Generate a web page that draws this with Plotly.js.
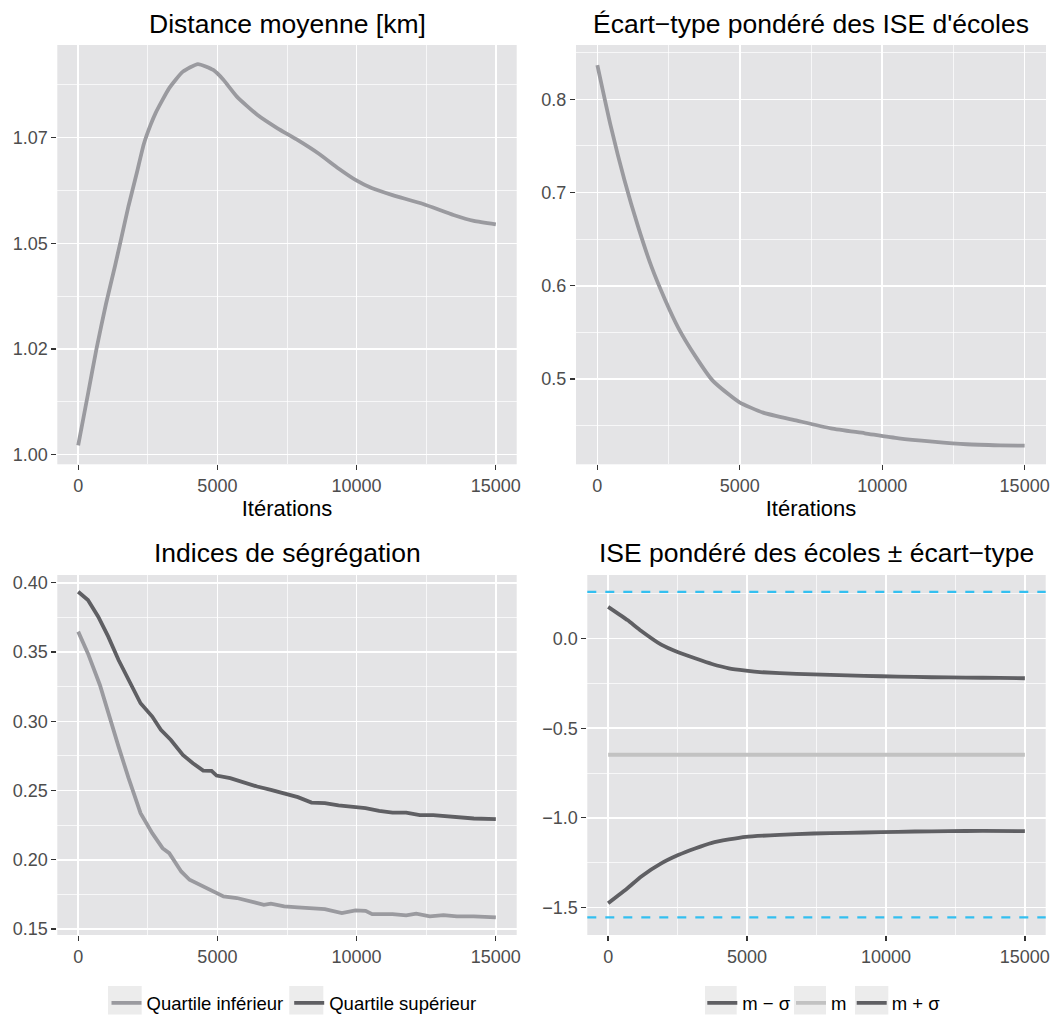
<!DOCTYPE html>
<html><head><meta charset="utf-8">
<script src="https://cdn.plot.ly/plotly-3.0.1.min.js"></script>
<style>html,body{margin:0;padding:0;background:#fff}#chart{width:1056px;height:1015px}</style>
</head><body><div id="chart"></div>
<script>
// ---------- DATA ----------
const xTicks = [0, 5000, 10000, 15000];
const xTickText = ['0', '5000', '10000', '15000'];

// Panel 1 : Distance moyenne [km]
const iterDist = [0, 350, 656, 1000, 1325, 1507, 1810, 2100, 2358, 2600, 2780, 3270, 3760, 4300, 4850, 5215, 5700, 6430, 7160, 7890, 8620, 9350, 9960, 10560, 11290, 12390, 13480, 14210, 15000];
const distMoy  = [1.0022, 1.0143, 1.0250, 1.0357, 1.0447, 1.0500, 1.0589, 1.0665, 1.0735, 1.0780, 1.0808, 1.0867, 1.0906, 1.0924, 1.0910, 1.0887, 1.0847, 1.0804, 1.0772, 1.0744, 1.0713, 1.0677, 1.0650, 1.0630, 1.0614, 1.0593, 1.0567, 1.0553, 1.0545];
const distTicks = [1.000, 1.025, 1.050, 1.075];
const distTickText = ['1.00', '1.02', '1.05', '1.07'];

// Panel 2 : Écart-type pondéré des ISE d'écoles
const iterEcart = [0, 475, 950, 1430, 1900, 2380, 2850, 3450, 4040, 4630, 4990, 5820, 7010, 8200, 9390, 10580, 11770, 12960, 14140, 15000];
const ecartType = [0.8368, 0.7707, 0.7135, 0.6634, 0.6205, 0.5848, 0.5544, 0.5240, 0.4985, 0.4830, 0.4750, 0.4639, 0.4553, 0.4471, 0.4418, 0.4364, 0.4328, 0.4300, 0.4289, 0.4285];
const ecartTicks = [0.5, 0.6, 0.7, 0.8];
const ecartTickText = ['0.5', '0.6', '0.7', '0.8'];

// Panel 3 : Indices de ségrégation
const iterSup = [0, 350, 720, 1080, 1450, 1810, 2240, 2660, 2970, 3330, 3760, 4120, 4490, 4790, 4970, 5460, 5940, 6430, 6920, 7400, 7890, 8380, 8860, 9350, 9830, 10320, 10810, 11290, 11780, 12270, 12750, 13240, 13720, 14210, 15000];
const quartileSup = [0.3935, 0.3875, 0.3755, 0.3611, 0.3442, 0.3298, 0.3130, 0.3034, 0.2938, 0.2865, 0.2757, 0.2697, 0.2644, 0.2642, 0.2608, 0.2589, 0.2558, 0.2529, 0.2505, 0.2476, 0.2452, 0.2413, 0.2409, 0.2392, 0.2380, 0.2373, 0.2353, 0.2341, 0.2341, 0.2322, 0.2322, 0.2313, 0.2303, 0.2298, 0.2293];
const iterInf = [0, 350, 780, 1080, 1450, 1810, 2240, 2660, 3030, 3270, 3700, 4000, 4490, 4970, 5220, 5700, 6190, 6670, 6920, 7400, 7890, 8380, 8860, 9470, 9960, 10320, 10560, 11290, 11780, 12140, 12630, 13120, 13600, 14210, 14700, 15000];
const quartileInf = [0.3647, 0.3490, 0.3262, 0.3058, 0.2817, 0.2589, 0.2337, 0.2192, 0.2084, 0.2048, 0.1916, 0.1856, 0.1808, 0.1764, 0.1736, 0.1724, 0.1700, 0.1675, 0.1683, 0.1663, 0.1656, 0.1651, 0.1644, 0.1615, 0.1635, 0.1632, 0.1608, 0.1608, 0.1599, 0.1611, 0.1591, 0.1601, 0.1591, 0.1591, 0.1584, 0.1584];
const segTicks = [0.15, 0.20, 0.25, 0.30, 0.35, 0.40];
const segTickText = ['0.15', '0.20', '0.25', '0.30', '0.35', '0.40'];

// Panel 4 : ISE pondéré des écoles ± écart-type
const iterPlus = [0, 694, 1181, 1911, 2520, 3128, 3737, 4346, 4955, 5564, 6782, 7999, 9217, 10434, 11652, 12869, 14087, 15000];
const mPlusSigma = [0.178, 0.104, 0.0446, -0.0334, -0.0761, -0.1095, -0.1411, -0.1652, -0.1782, -0.1875, -0.1968, -0.2023, -0.2079, -0.2116, -0.2153, -0.2172, -0.2190, -0.2209];
const iterMoins = [0, 694, 1181, 1911, 2520, 3128, 3737, 4346, 4955, 6172, 7390, 8607, 9825, 11042, 12260, 13477, 15000];
const mMoinsSigma = [-1.4776, -1.394, -1.329, -1.255, -1.2085, -1.1713, -1.1398, -1.1212, -1.1064, -1.0953, -1.0878, -1.0841, -1.0804, -1.0767, -1.0748, -1.0730, -1.0748];
const iterMean = [0, 15000];
const meanIse = [-0.648, -0.648];
const refLines = [0.262, -1.556];
const iseTicks = [-1.5, -1.0, -0.5, 0.0];
const iseTickText = ['\u22121.5', '\u22121.0', '\u22120.5', '0.0'];

const titles = ['Distance moyenne [km]', '\u00c9cart\u2212type pond\u00e9r\u00e9 des ISE d\'\u00e9coles', 'Indices de s\u00e9gr\u00e9gation', 'ISE pond\u00e9r\u00e9 des \u00e9coles \u00b1 \u00e9cart\u2212type'];

// ---------- LAYOUT HELPERS ----------
const W = 1056, H = 1015;
const px = x => x / W;
const py = y => 1 - y / H;
const FONT = '"Liberation Sans", Arial, Helvetica, sans-serif';
const LIGHT = '#9a9a9f', DARK = '#5f5f63', MEANC = '#c2c2c2', BLUE = '#33bff0';

function xax(d, anchor, withTitle) {
  const a = {
    domain: d, anchor: anchor, range: [-750, 15750],
    tickmode: 'array', tickvals: xTicks, ticktext: xTickText,
    ticks: 'outside', ticklen: 5, tickwidth: 1.3, tickcolor: '#333',
    tickfont: {family: FONT, size: 18, color: '#4d4d4d'},
    showgrid: true, gridcolor: '#ffffff', gridwidth: 1.5,
    zeroline: false, showline: false, fixedrange: true,
    minor: {tick0: 2500, dtick: 5000, showgrid: true, gridcolor: '#ffffff', gridwidth: 0.7, ticks: ''}
  };
  if (withTitle) a.title = {text: 'It\u00e9rations', font: {family: FONT, size: 22, color: '#000'}, standoff: 5};
  return a;
}
function yax(d, anchor, range, tv, tt, m0, md) {
  return {
    domain: d, anchor: anchor, range: range,
    tickmode: 'array', tickvals: tv, ticktext: tt,
    ticks: 'outside', ticklen: 5, tickwidth: 1.3, tickcolor: '#333',
    tickfont: {family: FONT, size: 18, color: '#4d4d4d'},
    showgrid: true, gridcolor: '#ffffff', gridwidth: 1.5,
    zeroline: false, showline: false, fixedrange: true,
    minor: {tick0: m0, dtick: md, showgrid: true, gridcolor: '#ffffff', gridwidth: 0.7, ticks: ''}
  };
}

const dx1 = [px(57.3), px(516.7)], dx2 = [px(576), px(1046)];
const dx3 = [px(57.3), px(516.7)], dx4 = [px(587.3), px(1045.7)];
const dyTop = [py(464.3), py(45)], dyBot = [py(935), py(575)];

const traces = [
  {x: iterDist, y: distMoy, xaxis: 'x', yaxis: 'y', mode: 'lines', line: {color: LIGHT, width: 3.8, shape: 'spline', smoothing: 0.5}, showlegend: false, hoverinfo: 'skip'},
  {x: iterEcart, y: ecartType, xaxis: 'x2', yaxis: 'y2', mode: 'lines', line: {color: LIGHT, width: 3.8, shape: 'spline', smoothing: 0.6}, showlegend: false, hoverinfo: 'skip'},
  {x: iterInf, y: quartileInf, xaxis: 'x3', yaxis: 'y3', mode: 'lines', name: 'Quartile inf\u00e9rieur', line: {color: LIGHT, width: 3.8}, legend: 'legend', legendwidth: 137.7},
  {x: iterSup, y: quartileSup, xaxis: 'x3', yaxis: 'y3', mode: 'lines', name: 'Quartile sup\u00e9rieur', line: {color: DARK, width: 3.8}, legend: 'legend'},
  {x: iterMoins, y: mMoinsSigma, xaxis: 'x4', yaxis: 'y4', mode: 'lines', name: 'm \u2212 \u03c3', line: {color: DARK, width: 3.8, shape: 'spline', smoothing: 0.4}, legend: 'legend2', legendwidth: 43.7},
  {x: iterMean, y: meanIse, xaxis: 'x4', yaxis: 'y4', mode: 'lines', name: 'm', line: {color: MEANC, width: 3.8}, legend: 'legend2', legendwidth: 15.7},
  {x: iterPlus, y: mPlusSigma, xaxis: 'x4', yaxis: 'y4', mode: 'lines', name: 'm + \u03c3', line: {color: DARK, width: 3.8, shape: 'spline', smoothing: 0.4}, legend: 'legend2'}
];

const shapes = refLines.map(v => ({type: 'line', xref: 'x4 domain', yref: 'y4', x0: 0, x1: 1, y0: v, y1: v, line: {color: BLUE, width: 2.2, dash: '9px,9px'}, layer: 'above'}));
// legend key backgrounds
[[108, 141.7], [289.3, 323.3], [705, 736.7], [794, 826], [855, 888.3]].forEach(k => {
  shapes.push({type: 'rect', xref: 'paper', yref: 'paper', x0: px(k[0]), x1: px(k[1]), y0: py(1014.5), y1: py(986), fillcolor: '#ececec', line: {width: 0}, layer: 'below'});
});

const annotations = [
  {text: titles[0], x: (dx1[0] + dx1[1]) / 2, y: py(24), yanchor: 'middle'},
  {text: titles[1], x: (dx2[0] + dx2[1]) / 2, y: py(24), yanchor: 'middle'},
  {text: titles[2], x: (dx3[0] + dx3[1]) / 2, y: py(553), yanchor: 'middle'},
  {text: titles[3], x: (dx4[0] + dx4[1]) / 2, y: py(553), yanchor: 'middle'}
].map(a => Object.assign(a, {xref: 'paper', yref: 'paper', xanchor: 'center', showarrow: false, font: {family: FONT, size: 26.5, color: '#000'}}));

const legendBase = {orientation: 'h', xref: 'container', yref: 'container', xanchor: 'left', yanchor: 'middle', y: py(1003.3), bgcolor: 'rgba(0,0,0,0)', borderwidth: 0, itemwidth: 30, traceorder: 'normal', font: {family: FONT, size: 18.5, color: '#000'}};

const layout = {
  width: W, height: H, margin: {l: 0, r: 0, t: 0, b: 0, autoexpand: false},
  paper_bgcolor: '#ffffff', plot_bgcolor: '#e4e4e6',
  font: {family: FONT},
  showlegend: true,
  xaxis: xax(dx1, 'y', true),
  yaxis: yax(dyTop, 'x', [0.99773, 1.0969], distTicks, distTickText, 1.0125, 0.025),
  xaxis2: xax(dx2, 'y2', true),
  yaxis2: yax(dyTop, 'x2', [0.4085, 0.8583], ecartTicks, ecartTickText, 0.45, 0.1),
  xaxis3: xax(dx3, 'y3', false),
  yaxis3: yax(dyBot, 'x3', [0.1457, 0.4056], segTicks, segTickText, 0.175, 0.05),
  xaxis4: xax(dx4, 'y4', false),
  yaxis4: yax(dyBot, 'x4', [-1.6547, 0.3557], iseTicks, iseTickText, -0.25, 0.5),
  legend: Object.assign({}, legendBase, {x: px(106.5)}),
  legend2: Object.assign({}, legendBase, {x: px(702.3)}),
  shapes: shapes,
  annotations: annotations
};

Plotly.newPlot('chart', traces, layout, {displayModeBar: false, staticPlot: true});
</script>
</body></html>
